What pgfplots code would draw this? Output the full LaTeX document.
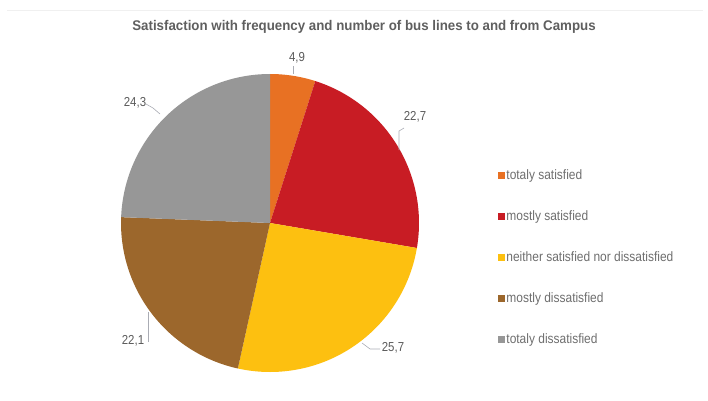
\documentclass[border=0pt]{standalone}
\usepackage{fontspec}
\setmainfont{Liberation Sans}
\newfontfamily\narrowfont[FakeStretch=0.88]{Liberation Sans}
\newfontfamily\titlefont[FakeStretch=0.95]{Liberation Sans}
\usepackage{pgfplots}
\usepackage{pgfplotstable}
\pgfplotsset{compat=1.18}
\definecolor{cA}{RGB}{232,113,35}
\definecolor{cB}{RGB}{200,28,36}
\definecolor{cC}{RGB}{253,192,16}
\definecolor{cD}{RGB}{156,103,44}
\definecolor{cE}{RGB}{151,151,151}
\definecolor{titlegray}{RGB}{95,95,95}
\definecolor{txtgray}{RGB}{110,110,110}
\definecolor{labgray}{RGB}{90,90,90}
\definecolor{leadgray}{RGB}{170,172,180}
\pgfplotstableread[col sep=comma]{
name,value,color
totaly satisfied,4.9,cA
mostly satisfied,22.7,cB
neither satisfied nor dissatisfied,25.7,cC
mostly dissatisfied,22.1,cD
totaly dissatisfied,24.3,cE
}\piedata
\begin{document}
\begin{tikzpicture}
\begin{axis}[hide axis, scale only axis, width=708pt, height=400pt,
  xmin=0, xmax=708, ymin=0, ymax=400, clip=false,
  legend style={at={(rel axis cs:0.703,0.58)}, anchor=north west, draw=none, fill=none,
    inner sep=0pt, font=\narrowfont\fontsize{13.6}{15}\selectfont, text=txtgray,
    row sep=26pt, nodes={inner sep=1.5pt, text height=9.5pt, text depth=2.5pt}},
  legend cell align=left,
  legend image code/.code={\fill[#1] (0pt,-3.5pt) rectangle (7pt,3.5pt);},
]
\pgfmathsetmacro\total{0}
\pgfplotsforeachungrouped \i in {0,...,4}{%
  \pgfplotstablegetelem{\i}{value}\of\piedata
  \pgfmathsetmacro\total{\total+\pgfplotsretval}%
}
\def\cum{0}
\pgfplotsforeachungrouped \i in {0,...,4}{%
  \pgfplotstablegetelem{\i}{value}\of\piedata \let\sliceval\pgfplotsretval
  \pgfplotstablegetelem{\i}{color}\of\piedata \let\slicecol\pgfplotsretval
  \pgfmathsetmacro\aEnd{90-(\cum/\total)*360}%
  \pgfmathsetmacro\cum{\cum+\sliceval}%
  \pgfmathsetmacro\aStart{90-(\cum/\total)*360}%
  \edef\temp{\noexpand\addplot[fill=\slicecol, draw=none, domain=\aStart:\aEnd, samples=90]
    ({270+149*cos(x)},{177+149*sin(x)}) -- (axis cs:270,177) -- cycle;}%
  \temp
}
\legend{totaly satisfied, mostly satisfied, neither satisfied nor dissatisfied, mostly dissatisfied, totaly dissatisfied}
% title
\node[font=\titlefont\bfseries\fontsize{14}{16}\selectfont, text=titlegray] at (axis cs:364,373) {Satisfaction with frequency and number of bus lines to and from Campus};
% data labels
\begin{scope}[every node/.style={font=\narrowfont\fontsize{13}{15}\selectfont, text=labgray}]
\node at (axis cs:297,342) {4,9};
\node at (axis cs:415,283) {22,7};
\node at (axis cs:393,52) {25,7};
\node at (axis cs:133,59) {22,1};
\node at (axis cs:135,297) {24,3};
\end{scope}
\begin{scope}[leadgray, line width=0.6pt]
\draw (axis cs:293,334) -- (axis cs:293,326);
\draw (axis cs:404,272) -- (axis cs:399,269) -- (axis cs:399,250);
\draw (axis cs:380,51) -- (axis cs:370,51) -- (axis cs:362,57);
\draw (axis cs:148,58) -- (axis cs:148,88);
\draw (axis cs:146,296) -- (axis cs:153,292) -- (axis cs:160,286);
\end{scope}
\draw[black!6, line width=0.8pt] (axis cs:7,390) -- (axis cs:703,390);
\end{axis}
\pgfresetboundingbox
\path (current axis.south west) rectangle (current axis.north east);
\end{tikzpicture}
\end{document}
